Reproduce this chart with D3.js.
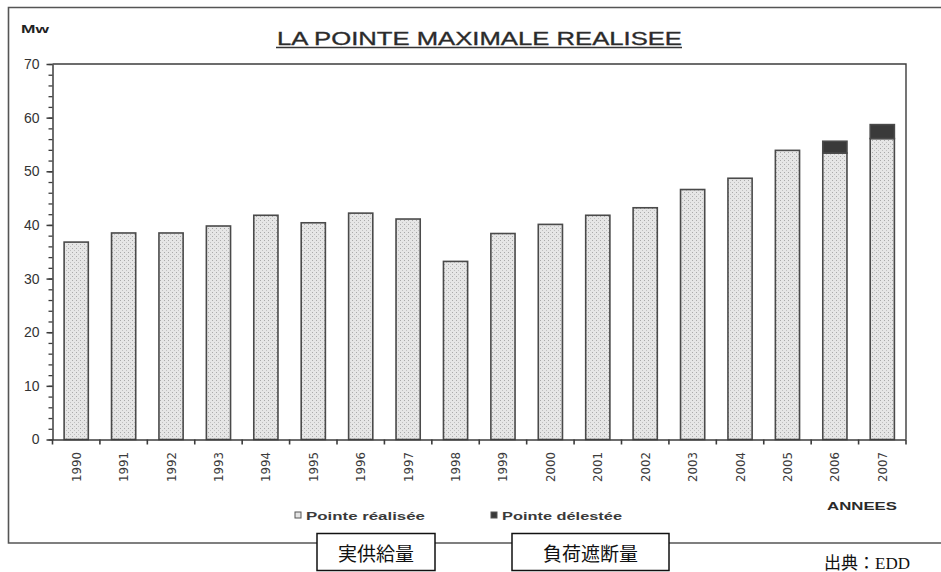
<!DOCTYPE html>
<html>
<head>
<meta charset="utf-8">
<script src="https://cdn.jsdelivr.net/npm/d3@7/dist/d3.min.js"></script>
<style>
  html, body { margin: 0; padding: 0; background: #fff; }
  svg { display: block; }
</style>
</head>
<body>
<svg id="chart" width="941" height="572"></svg>
<script>
// Annual peak demand (MW): realised peak and load shed on top of it
const years = ["1990","1991","1992","1993","1994","1995","1996","1997","1998",
               "1999","2000","2001","2002","2003","2004","2005","2006","2007"];
const realised = [36.8, 38.5, 38.5, 39.8, 41.8, 40.4, 42.2, 41.1, 33.2,
                  38.4, 40.1, 41.8, 43.2, 46.6, 48.7, 53.9, 53.4, 56.1];
const shed     = [0, 0, 0, 0, 0, 0, 0, 0, 0,
                  0, 0, 0, 0, 0, 0, 0, 2.2, 2.6];
const yTicks = [0, 10, 20, 30, 40, 50, 60, 70];
const legendLabels = ["Pointe réalisée", "Pointe délestée"];
const captionBoxes = ["実供給量", "負荷遮断量"];

const svg = d3.select("#chart");
const axisColor = "#3c3c3c";
const textColor = "#333";

// stippled grey fill for the realised part of each bar
const defs = svg.append("defs");
const pat = defs.append("pattern")
  .attr("id", "stipple").attr("patternUnits", "userSpaceOnUse")
  .attr("width", 4).attr("height", 4);
pat.append("rect").attr("width", 4).attr("height", 4).attr("fill", "#e6e6e6");
pat.append("rect").attr("x", 0).attr("y", 0).attr("width", 1).attr("height", 1).attr("fill", "#a9a9a9");
pat.append("rect").attr("x", 2).attr("y", 2).attr("width", 1).attr("height", 1).attr("fill", "#c0c0c0");

// outer frame of the figure (right side runs off the page)
svg.append("path")
  .attr("d", "M960,7.5 H8.5 V543 H960")
  .attr("fill", "none").attr("stroke", "#555").attr("stroke-width", 1.6);

const plot = { left: 52.5, right: 906, top: 64, bottom: 439.5 };

const x = d3.scaleBand().domain(years)
  .range([plot.left, plot.right]).paddingInner(0.49).paddingOuter(0.245);
const y = d3.scaleLinear().domain([0, 70]).range([plot.bottom, plot.top]);

// top and right edges of the plot frame
svg.append("path")
  .attr("d", `M${plot.left},${plot.top} H${plot.right} V${plot.bottom}`)
  .attr("fill", "none").attr("stroke", axisColor).attr("stroke-width", 1.4);

// stacked bars
const rows = years.map((yr, i) => ({ year: yr, realised: realised[i], shed: shed[i] }));
const stack = d3.stack().keys(["realised", "shed"])(rows);
const fills = { realised: "url(#stipple)", shed: "#3a3a3a" };

svg.append("g").selectAll("g").data(stack).join("g")
  .attr("fill", d => fills[d.key])
  .selectAll("rect").data(d => d.filter(p => p[1] - p[0] > 0)).join("rect")
  .attr("x", d => x(d.data.year))
  .attr("y", d => y(d[1]))
  .attr("width", x.bandwidth())
  .attr("height", d => y(d[0]) - y(d[1]))
  .attr("stroke", "#4a4a4a").attr("stroke-width", 1.6);

// y axis: minor ticks every 2, labelled ticks every 10
const yMinor = d3.range(0, 71, 2);
svg.append("g").attr("transform", `translate(${plot.left},0)`)
  .call(d3.axisLeft(y).tickValues(yMinor).tickSize(4).tickFormat(""))
  .call(g => g.select(".domain").remove())
  .call(g => g.selectAll("line").attr("stroke", axisColor).attr("stroke-width", 1.3));

const yAxis = svg.append("g").attr("transform", `translate(${plot.left},0)`)
  .call(d3.axisLeft(y).tickValues(yTicks).tickSize(6).tickPadding(7).tickSizeOuter(0));
yAxis.select(".domain").attr("stroke", axisColor).attr("stroke-width", 1.5);
yAxis.selectAll("line").attr("stroke", axisColor).attr("stroke-width", 1.5);
yAxis.selectAll("text")
  .attr("font-family", "Liberation Sans, Arial, sans-serif")
  .attr("font-size", 14).attr("fill", textColor);

// x axis line with ticks between the years
const edges = [x.range()[0]].concat(years.map(yr => x(yr) + x.bandwidth() + (x.step() - x.bandwidth()) / 2));
const xAxis = svg.append("g");
xAxis.append("line")
  .attr("x1", plot.left).attr("x2", plot.right)
  .attr("y1", plot.bottom + 0.5).attr("y2", plot.bottom + 0.5)
  .attr("stroke", axisColor).attr("stroke-width", 1.6);
xAxis.selectAll(".tick").data(edges).join("line")
  .attr("x1", d => d).attr("x2", d => d)
  .attr("y1", plot.bottom).attr("y2", plot.bottom + 5)
  .attr("stroke", axisColor).attr("stroke-width", 1.6);

// rotated year labels
svg.append("g").selectAll("text").data(years).join("text")
  .attr("transform", d => `translate(${x(d) + x.bandwidth() / 2 + 4.5},452) rotate(-90)`)
  .attr("text-anchor", "end")
  .attr("font-family", "Liberation Sans Narrow, DejaVu Sans Condensed, sans-serif")
  .attr("font-size", 12.5)
  .attr("textLength", 30).attr("lengthAdjust", "spacingAndGlyphs")
  .attr("fill", "#3c3c3c")
  .text(d => d);

// unit label and title
svg.append("text")
  .attr("x", 21).attr("y", 33)
  .attr("font-family", "Liberation Sans, Arial, sans-serif")
  .attr("font-weight", "bold").attr("font-size", 11.5)
  .attr("textLength", 28).attr("lengthAdjust", "spacingAndGlyphs")
  .attr("fill", "#222").text("Mw");

svg.append("text")
  .attr("x", 277).attr("y", 45)
  .attr("font-family", "Liberation Sans, Arial, sans-serif")
  .attr("font-size", 19)
  .attr("stroke", "#333").attr("stroke-width", 0.35)
  .attr("textLength", 405).attr("lengthAdjust", "spacingAndGlyphs")
  .attr("fill", "#2a2a2a").text("LA POINTE MAXIMALE REALISEE");
svg.append("line")
  .attr("x1", 276).attr("x2", 682).attr("y1", 47.5).attr("y2", 47.5)
  .attr("stroke", "#333").attr("stroke-width", 1.3);

// axis title
svg.append("text")
  .attr("x", 827).attr("y", 510)
  .attr("font-family", "Liberation Sans, Arial, sans-serif")
  .attr("font-weight", "bold").attr("font-size", 11.5)
  .attr("textLength", 70).attr("lengthAdjust", "spacingAndGlyphs")
  .attr("fill", "#2a2a2a").text("ANNEES");

// legend
const legendX = [295, 491];
const legendFill = ["#e4e4e4", "#3a3a3a"];
const legend = svg.append("g").selectAll("g").data(legendLabels).join("g")
  .attr("transform", (d, i) => `translate(${legendX[i]},512)`);
legend.append("rect")
  .attr("width", 6).attr("height", 6)
  .attr("fill", (d, i) => legendFill[i])
  .attr("stroke", "#555").attr("stroke-width", 1);
legend.append("text")
  .attr("x", 11).attr("y", 8)
  .attr("font-family", "Liberation Sans, Arial, sans-serif")
  .attr("font-weight", "bold").attr("font-size", 11.5)
  .attr("textLength", (d, i) => i === 0 ? 119 : 120).attr("lengthAdjust", "spacingAndGlyphs")
  .attr("fill", "#3a3a3a").text(d => d);

// boxed Japanese captions under the legend
const boxX = [317, 512];
const boxW = [118, 157];
const boxes = svg.append("g").selectAll("g").data(captionBoxes).join("g")
  .attr("transform", (d, i) => `translate(${boxX[i]},533.5)`);
boxes.append("rect")
  .attr("width", (d, i) => boxW[i]).attr("height", 37)
  .attr("fill", "#fff").attr("stroke", "#111").attr("stroke-width", 1.5);
boxes.append("text")
  .attr("x", (d, i) => boxW[i] / 2).attr("y", 27)
  .attr("text-anchor", "middle")
  .attr("font-family", "Noto Sans CJK JP, sans-serif")
  .attr("font-size", 19).attr("fill", "#111")
  .text(d => d);

// source note
svg.append("text")
  .attr("x", 824).attr("y", 569)
  .attr("font-family", "Liberation Serif, Noto Sans CJK JP, serif")
  .attr("font-size", 17).attr("fill", "#111")
  .text("出典：EDD");
</script>
</body>
</html>
